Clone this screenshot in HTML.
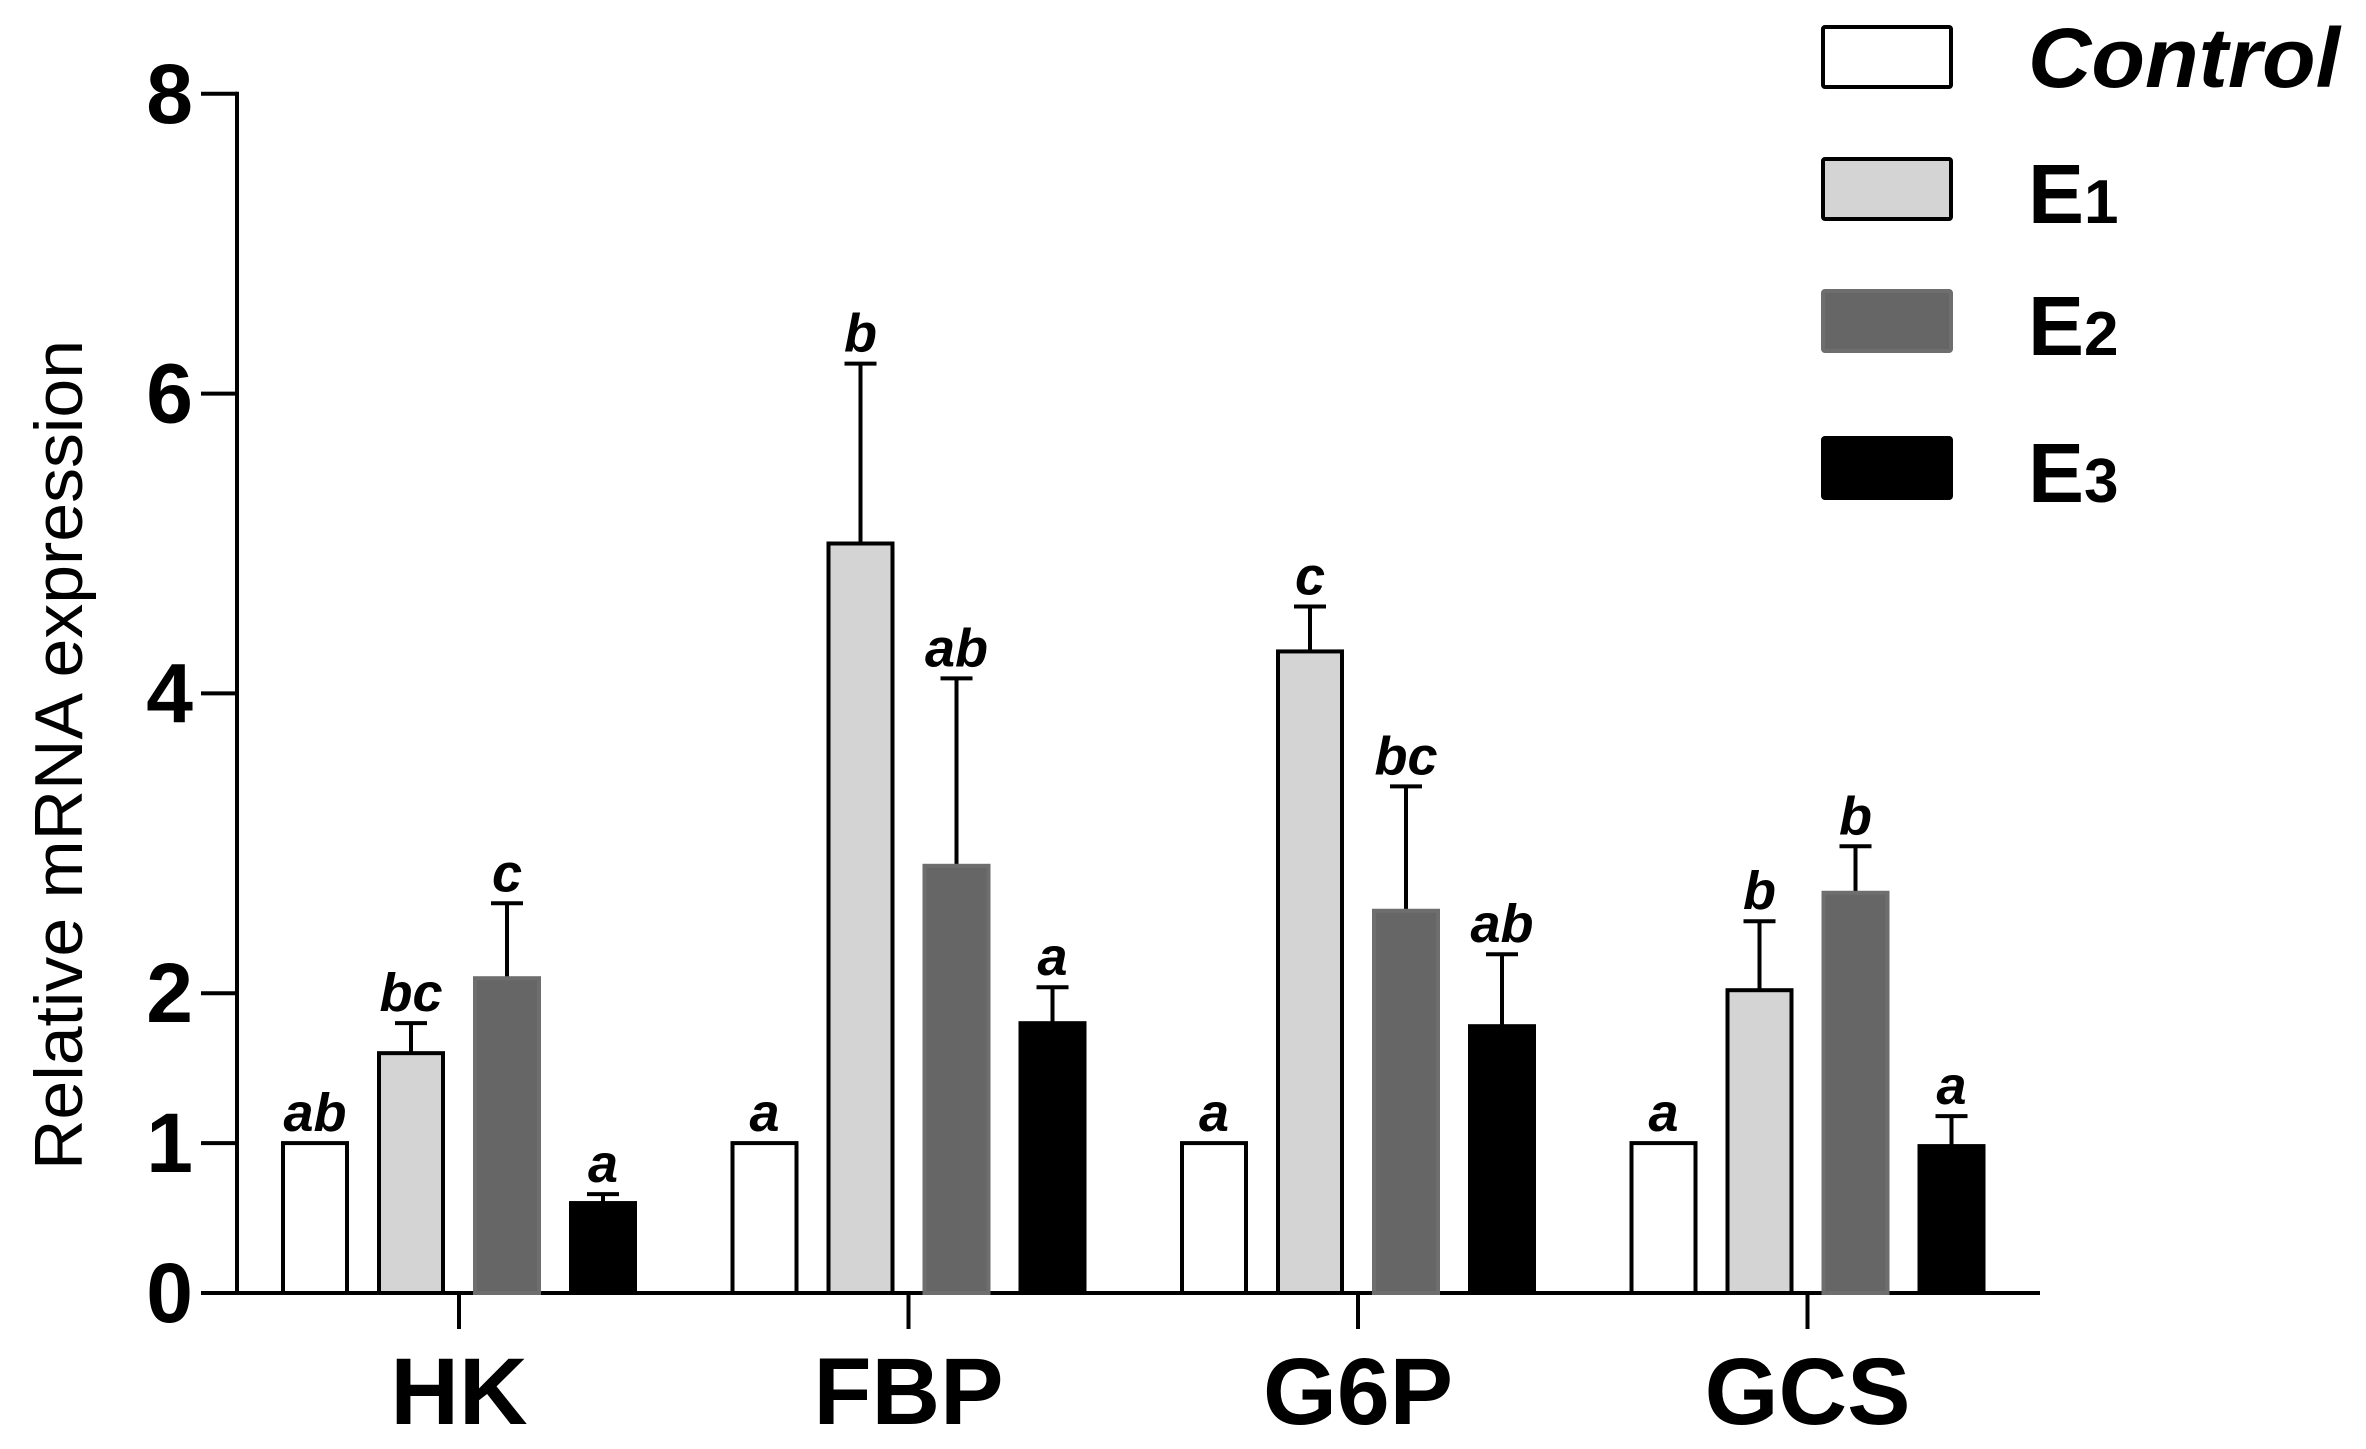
<!DOCTYPE html>
<html><head><meta charset="utf-8"><style>
html,body{margin:0;padding:0;background:#fff}
svg{display:block}
text{font-family:"Liberation Sans",Arial,sans-serif}
</style></head><body>
<svg id="chart" width="2366" height="1449" viewBox="0 0 2366 1449" xmlns="http://www.w3.org/2000/svg">
<g id="axes"></g>
<g id="bars"></g>
<g id="legend"></g>
<text transform="translate(82,755) rotate(-90)" text-anchor="middle" font-size="68" textLength="830" lengthAdjust="spacingAndGlyphs">Relative mRNA expression</text>
</svg>
<script>
const categories = ["HK","FBP","G6P","GCS"];
const seriesNames = ["Control","E1","E2","E3"];
const controlVals = [1,1,1,1];
const e1Vals = [1.6,5.0,4.28,2.02];
const e2Vals = [2.1,2.85,2.55,2.67];
const e3Vals = [0.6,1.8,1.78,0.98];
const controlErr = [0,0,0,0];
const e1Err = [0.2,1.2,0.3,0.46];
const e2Err = [0.5,1.25,0.83,0.31];
const e3Err = [0.06,0.24,0.48,0.2];
const controlLetters = ["ab","a","a","a"];
const e1Letters = ["bc","b","c","b"];
const e2Letters = ["c","ab","bc","b"];
const e3Letters = ["a","a","ab","a"];
const yTicks = [0,1,2,4,6,8];

const NS="http://www.w3.org/2000/svg";
const y0=1293, pxPerUnit=149.9, axisX=237, axisEnd=2040;
const yScale=v=>y0-v*pxPerUnit;
const catX=i=>459+i*449.5;
const fills=["#ffffff","#d4d4d4","#666666","#000000"];
const strokes=["#000","#000","#6e6e6e","#000"];
const vals=[controlVals,e1Vals,e2Vals,e3Vals];
const errs=[controlErr,e1Err,e2Err,e3Err];
const letters=[controlLetters,e1Letters,e2Letters,e3Letters];
function mk(tag,attrs,parent){const e=document.createElementNS(NS,tag);for(const k in attrs)e.setAttribute(k,attrs[k]);parent.appendChild(e);return e;}
const axes=document.getElementById('axes');
let yl=mk('line',{x1:axisX,y1:yScale(8)-2,x2:axisX,y2:y0+2,stroke:'#000','stroke-width':4},axes);


let xl=mk('line',{x1:axisX-2,y1:y0,x2:axisEnd,y2:y0,stroke:'#000','stroke-width':4},axes);


yTicks.forEach(t=>{
  const y=yScale(t);
  const tl=mk('line',{x1:axisX-36,y1:y,x2:axisX,y2:y,stroke:'#000','stroke-width':4},axes);
  
  
  const tx=mk('text',{x:axisX-44,y:y+29,'text-anchor':'end','font-size':84,'font-weight':'bold'},axes);
  tx.textContent=t;
  
  
});
categories.forEach((c,i)=>{
  const x=catX(i);
  const tl=mk('line',{x1:x,y1:y0,x2:x,y2:y0+36,stroke:'#000','stroke-width':4},axes);
  
  
  const tx=mk('text',{x:x,y:1424,'text-anchor':'middle','font-size':95,'font-weight':'bold'},axes);
  tx.textContent=c;
  
  
});
const bars=document.getElementById('bars');
const step=96, bw=64;
categories.forEach((c,i)=>{
  for(let s=0;s<4;s++){
    const cx=catX(i)+(s-1.5)*step;
    const v=vals[s][i], e=errs[s][i];
    const top=yScale(v);
    if(e>0){
      const et=yScale(v+e);
      const el=mk('line',{x1:cx,y1:top,x2:cx,y2:et,stroke:'#000','stroke-width':4},bars);
      
      
      const ec=mk('line',{x1:cx-16,y1:et,x2:cx+16,y2:et,stroke:'#000','stroke-width':4},bars);
      
      
    }
    const r=mk('rect',{x:cx-bw/2,y:top,width:bw,height:y0-top,fill:fills[s],stroke:strokes[s],'stroke-width':4},bars);
    
    
    const lt=mk('text',{x:cx,y:yScale(v+e)-12,'text-anchor':'middle','font-size':54,'font-weight':'bold','font-style':'italic'},bars);
    lt.textContent=letters[s][i];
    
    
  }
});
const legend=document.getElementById('legend');
const legY=[57,189,321,468];
seriesNames.forEach((n,s)=>{
  const g=mk('g',{},legend);
  
  
  const r=mk('rect',{x:1823,y:legY[s]-30,width:128,height:60,fill:fills[s],stroke:strokes[s],'stroke-width':4,rx:2},g);
  
  
  let t;
  if(s===0){
    t=mk('text',{x:2028,y:legY[s]+30,'font-size':84,'font-weight':'bold','font-style':'italic',textLength:312,lengthAdjust:'spacingAndGlyphs'},g);
    t.textContent=n;
  } else {
    t=mk('text',{x:2028,y:legY[s]+34,'font-size':84,'font-weight':'bold'},g);
    t.textContent='E';
    const sub=mk('tspan',{'font-size':62,'font-weight':'bold'},t);
    sub.textContent=n.slice(1);
  }
  
  
});
</script>
</body></html>
